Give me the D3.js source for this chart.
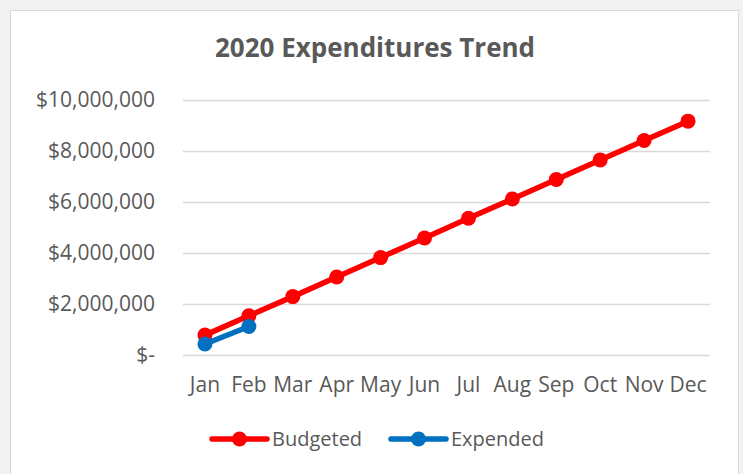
<!DOCTYPE html>
<html>
<head>
<meta charset="utf-8">
<script src="https://cdn.jsdelivr.net/npm/d3@7"></script>
<style>
  body { margin: 0; background: #f2f2f2; }
  svg { display: block; font-family: "Open Sans", sans-serif; }
</style>
</head>
<body>
<svg id="chart" width="743" height="474"></svg>
<script>
// chart data
var months = ["Jan", "Feb", "Mar", "Apr", "May", "Jun", "Jul", "Aug", "Sep", "Oct", "Nov", "Dec"];
var budgeted = [780000, 1540000, 2290000, 3060000, 3820000, 4590000, 5360000, 6120000, 6880000, 7650000, 8410000, 9170000];
var expended = [430000, 1120000];
var yTicks = [0, 2000000, 4000000, 6000000, 8000000, 10000000];

var svg = d3.select("#chart");

// white chart box
svg.append("rect")
  .attr("x", 10.5).attr("y", 10.5)
  .attr("width", 728).attr("height", 470)
  .attr("fill", "#fff")
  .attr("stroke", "#d9d9d9");

var plotLeft = 183, plotRight = 710, plotTop = 100, plotBottom = 355;

var x = d3.scaleBand().domain(months).range([plotLeft, plotRight]);
var y = d3.scaleLinear().domain([0, 10000000]).range([plotBottom, plotTop]);

// gridlines
svg.append("g")
  .selectAll("line")
  .data(yTicks)
  .enter()
  .append("line")
  .attr("x1", plotLeft).attr("x2", plotRight)
  .attr("y1", function(d) { return Math.round(y(d)) + 0.5; })
  .attr("y2", function(d) { return Math.round(y(d)) + 0.5; })
  .attr("stroke", "#d9d9d9")
  .attr("stroke-width", 1.3);

// y axis labels
var fmt = d3.format(",");
var yAxis = svg.append("g")
  .attr("transform", "translate(" + plotLeft + ",0)")
  .call(d3.axisLeft(y).tickValues(yTicks).tickSize(0).tickPadding(28)
    .tickFormat(function(d) { return d === 0 ? "$-" : "$" + fmt(d); }));
yAxis.select(".domain").remove();
yAxis.selectAll("text")
  .attr("fill", "#595959")
  .style("font-size", "21px")
  .style("font-family", "Open Sans");

// x axis labels
var xAxis = svg.append("g")
  .attr("transform", "translate(0," + plotBottom + ")")
  .call(d3.axisBottom(x).tickSize(0).tickPadding(22));
xAxis.select(".domain").remove();
xAxis.selectAll("text")
  .attr("fill", "#595959")
  .style("font-size", "21px")
  .style("font-family", "Open Sans");

var line = d3.line()
  .x(function(d, i) { return x(months[i]) + x.bandwidth() / 2; })
  .y(function(d) { return y(d); });

function drawSeries(values, color) {
  svg.append("path")
    .datum(values)
    .attr("d", line)
    .attr("fill", "none")
    .attr("stroke", color)
    .attr("stroke-width", 5.5)
    .attr("stroke-linejoin", "round");
  svg.append("g")
    .selectAll("circle")
    .data(values)
    .enter()
    .append("circle")
    .attr("cx", function(d, i) { return x(months[i]) + x.bandwidth() / 2; })
    .attr("cy", function(d) { return y(d); })
    .attr("r", 7.5)
    .attr("fill", color);
}

drawSeries(budgeted, "#ff0000");
drawSeries(expended, "#0070c0");

// title
svg.append("text")
  .attr("x", 375).attr("y", 57)
  .attr("text-anchor", "middle")
  .attr("fill", "#595959")
  .style("font-size", "26px")
  .style("font-weight", "bold")
  .text("2020 Expenditures Trend");

// legend
var legend = [
  { name: "Budgeted", color: "#ff0000", x: 212 },
  { name: "Expended", color: "#0070c0", x: 391 }
];
var lg = svg.append("g").selectAll("g")
  .data(legend)
  .enter()
  .append("g")
  .attr("transform", function(d) { return "translate(" + d.x + ",439)"; });
lg.append("line")
  .attr("x1", 0).attr("x2", 55)
  .attr("stroke", function(d) { return d.color; })
  .attr("stroke-width", 5.5)
  .attr("stroke-linecap", "round");
lg.append("circle")
  .attr("cx", 27.5).attr("r", 7.5)
  .attr("fill", function(d) { return d.color; });
lg.append("text")
  .attr("x", 60).attr("y", 7)
  .attr("fill", "#595959")
  .style("font-size", "20px")
  .text(function(d) { return d.name; });
</script>
</body>
</html>
